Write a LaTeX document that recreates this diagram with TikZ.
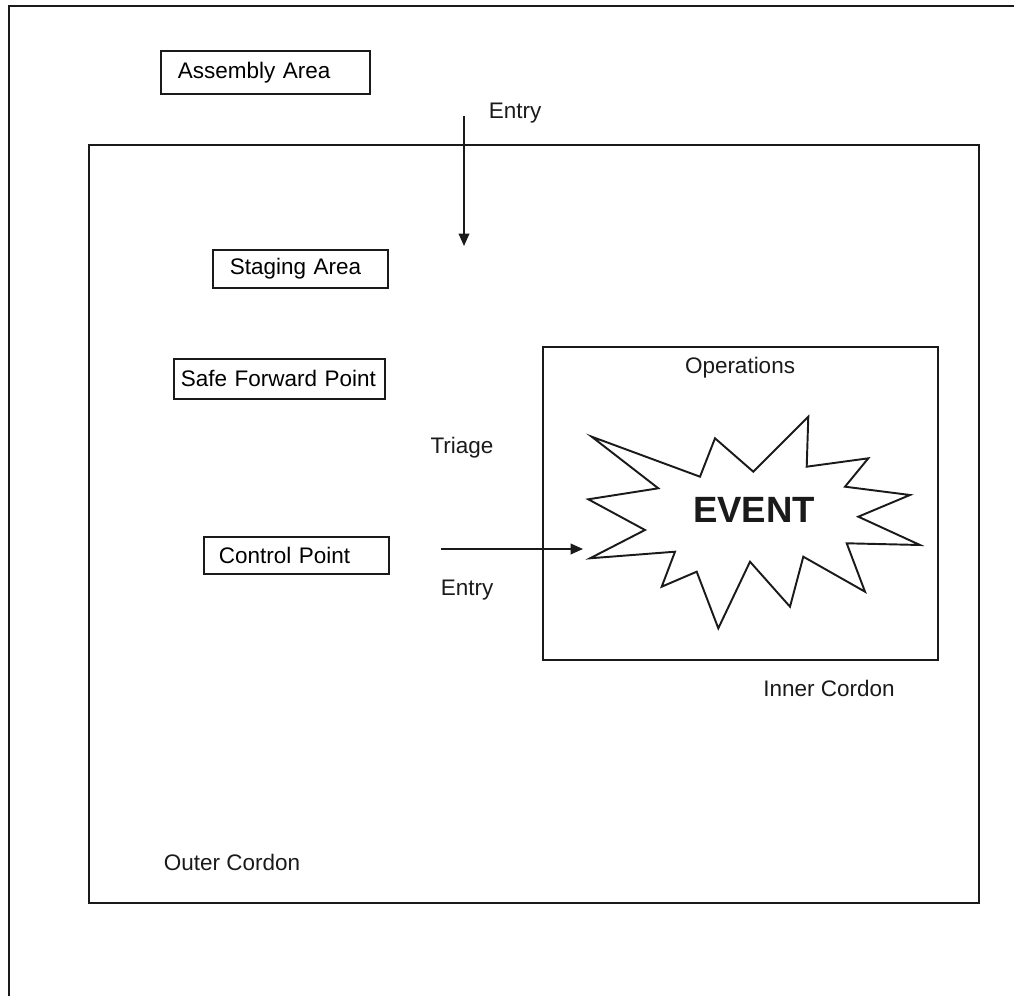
\documentclass[tikz,border=0pt]{standalone}
\usepackage{fontspec}
\setmainfont{Liberation Sans}
\usepackage{tikz}
\usetikzlibrary{arrows.meta}
\definecolor{ink}{HTML}{1A1A1A}
\tikzset{
  frame/.style={draw=ink, line width=1.1pt},
  areabox/.style={draw=ink, line width=1.1pt, anchor=north west, align=left, inner ysep=0pt, font=\fontsize{12.8}{15}\selectfont},
  lab/.style={text=ink, font=\fontsize{12.8}{15}\selectfont},
  flow/.style={draw=ink, line width=1pt, -{Triangle[length=7pt,width=6pt]}},
  burst/.style={draw=ink, line width=1.1pt, line join=miter},
}

\begin{document}
\begin{tikzpicture}[x=0.02cm, y=-0.02cm]
  \useasboundingbox (0,0) rectangle (1014,996);

  % page frame (cut at the right and bottom)
  \draw[frame] (1014,6) -- (9,6) -- (9,996);

  % cordons
  \draw[frame] (89,145) rectangle (979,903);
  \draw[frame] (543,347) rectangle (938,660);

  % areas
  \node[areabox, inner xsep=0.34cm, text width=3.5cm, minimum height=0.86cm] (assembly) at (160,50) {Assembly Area};
  \node[areabox, inner xsep=0.34cm, text width=2.82cm, minimum height=0.76cm] (staging) at (212,249) {Staging Area};
  \node[areabox, inner xsep=0.14cm, text width=3.94cm, minimum height=0.8cm] (forward) at (173,358) {Safe\ Forward\ Point};
  \node[areabox, inner xsep=0.3cm, text width=3.1cm, minimum height=0.74cm] (control) at (203,536) {Control Point};

  % labels
  \node[lab] (entrytop) at (515,113) {Entry};
  \node[lab] (triage) at (462,448) {Triage};
  \node[lab] (entrybot) at (467,590) {Entry};
  \node[lab] (ops) at (740,368) {Operations};
  \node[lab] (inner) at (829,688) {Inner Cordon};
  \node[lab] (outer) at (232,862) {Outer Cordon};

  % the event
  \draw[burst] (591.7,436.7) -- (658.3,488.3) -- (588.3,499.3) -- (645,530)
    -- (590,558.3) -- (675,551.7) -- (661.7,586.7) -- (696.7,571.7)
    -- (718.3,628.3) -- (750,561.7) -- (790,606.7) -- (803.3,556.7)
    -- (865,591.7) -- (846.7,543.3) -- (920,545) -- (858.3,516.7)
    -- (910,495) -- (845,486.7) -- (868.3,458.3) -- (806.7,466.7)
    -- (808.3,416.7) -- (753.3,471.7) -- (715,438.3) -- (700,476.7) -- cycle;
  \node[text=ink, font=\fontsize{20.8}{24}\selectfont\bfseries] (event) at (754,510) {EVENT};

  % entries
  \coordinate (intop) at (464,116);
  \coordinate (inend) at (464,246);
  \coordinate (cpout) at (441,549);
  \coordinate (cpend) at (583,549);
  \draw[flow] (intop) -- (inend);
  \draw[flow] (cpout) -- (cpend);
\end{tikzpicture}
\end{document}
